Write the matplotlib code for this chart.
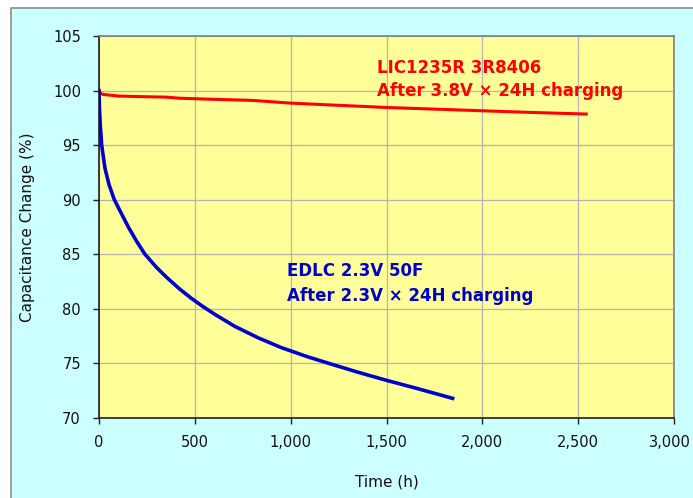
import matplotlib
matplotlib.use("Agg")
import matplotlib.pyplot as plt
from matplotlib.patches import Rectangle
from matplotlib.ticker import FuncFormatter
from matplotlib.transforms import ScaledTranslation

plt.rcParams['font.family'] = ['DejaVu Sans']

# LIC1235R 3R8406 after 3.8V x 24H charging
lic_hours = [0, 5, 20, 100, 200, 350, 420, 600, 800, 1000, 1250, 1500, 1750, 2000, 2250, 2542]
lic_cap = [100.0, 99.8, 99.65, 99.5, 99.45, 99.4, 99.3, 99.2, 99.1, 98.85, 98.65, 98.45, 98.3, 98.15, 98.0, 97.85]

# EDLC 2.3V 50F after 2.3V x 24H charging
edlc_hours = [0, 2, 6, 14, 31, 52, 80, 115, 153, 196, 240, 300, 352, 422, 483, 535, 604,
              708, 830, 951, 1090, 1200, 1350, 1500, 1650, 1845]
edlc_cap = [100.0, 98.5, 97.0, 95.0, 92.9, 91.4, 90.0, 88.8, 87.5, 86.2, 85.0, 83.8, 82.9,
            81.8, 80.95, 80.3, 79.5, 78.4, 77.35, 76.45, 75.6, 75.0, 74.2, 73.45, 72.75, 71.8]

x_ticks = [0, 500, 1000, 1500, 2000, 2500, 3000]
y_ticks = [70, 75, 80, 85, 90, 95, 100, 105]

fig = plt.figure(figsize=(6.93, 4.98), dpi=100)
fig.patch.set_facecolor('white')

# cyan chart panel behind the axes
fig.patches.append(Rectangle((11 / 693, -0.1), 1.2, 1.1 - 8 / 498, transform=fig.transFigure,
                             facecolor='#ccffff', edgecolor='#8c8c8c', linewidth=1.2, zorder=-10))

ax = fig.add_axes([99 / 693, 80 / 498, 575 / 693, 382 / 498])
ax.set_zorder(1)
ax.set_facecolor('#ffff99')

ax.plot(lic_hours, lic_cap, color='#ff0000', linewidth=2.2, zorder=3)
ax.plot(edlc_hours, edlc_cap, color='#0000cc', linewidth=2.6, zorder=3)

ax.set_xlim(0, 3000)
ax.set_ylim(70, 105)
ax.set_xticks(x_ticks)
ax.set_yticks(y_ticks)
ax.xaxis.set_major_formatter(FuncFormatter(lambda v, p: f"{int(v):,}"))
ax.grid(True, color='#b4b4b4', linewidth=0.9)
ax.set_axisbelow(True)

for side in ['top', 'right']:
    ax.spines[side].set_color('#808080')
    ax.spines[side].set_linewidth(1.2)
for side in ['left', 'bottom']:
    ax.spines[side].set_color('#202020')
    ax.spines[side].set_linewidth(1.2)

ax.tick_params(axis='both', direction='out', length=4, width=1, color='#202020',
               labelsize=10.5, labelcolor='#111111')
ax.tick_params(axis='x', pad=8)
ax.tick_params(axis='y', pad=9)

# nudge the last x label so it stays inside the picture
last = ax.get_xticklabels()[-1]
last.set_transform(last.get_transform() + ScaledTranslation(-3 / 72, 0, fig.dpi_scale_trans))

ax.set_xlabel('Time (h)', fontsize=11, labelpad=18, color='#111111')
ax.set_ylabel('Capacitance Change (%)', fontsize=11, labelpad=13, color='#111111')

ax.text(1448, 102.1, 'LIC1235R 3R8406', color='#ff0000', fontsize=12, fontweight='bold',
        va='center', ha='left')
ax.text(1448, 100.0, 'After 3.8V × 24H charging', color='#ff0000', fontsize=12,
        fontweight='bold', va='center', ha='left')
ax.text(979, 83.5, 'EDLC 2.3V 50F', color='#0000cc', fontsize=12, fontweight='bold',
        va='center', ha='left')
ax.text(979, 81.2, 'After 2.3V × 24H charging', color='#0000cc', fontsize=12,
        fontweight='bold', va='center', ha='left')

fig.savefig('out.png', dpi=100)
